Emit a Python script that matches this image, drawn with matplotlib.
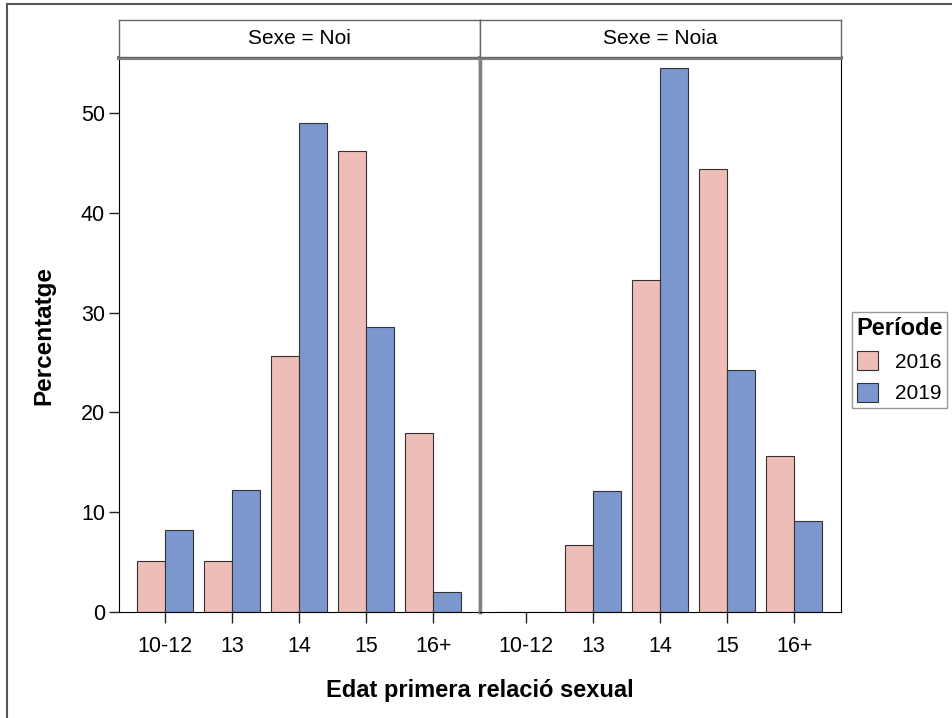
import numpy as np
import matplotlib.pyplot as plt
from matplotlib.patches import Patch
from matplotlib.lines import Line2D

plt.rcParams['font.family'] = ['Liberation Sans', 'DejaVu Sans']

CATS = ["10-12", "13", "14", "15", "16+"]
PANELS = ["Sexe = Noi", "Sexe = Noia"]
NOI_2016 = [5.1, 5.1, 25.6, 46.2, 17.9]
NOI_2019 = [8.2, 12.2, 49.0, 28.6, 2.0]
NOIA_2016 = [0.0, 6.7, 33.3, 44.4, 15.6]
NOIA_2019 = [0.0, 12.1, 54.5, 24.2, 9.1]
YEARS = ["2016", "2019"]
COLORS = ["#EFBDB7", "#7B97CD"]

DATA = [(NOI_2016, NOI_2019), (NOIA_2016, NOIA_2019)]

W, H = 953, 718
fig = plt.figure(figsize=(W / 100, H / 100), dpi=100)

def fx(px):
    return px / W

def fy(py):
    return 1 - py / H

GRAY = "#808080"
x = np.arange(len(CATS))
bw = 0.42
panel_x = [(119, 480), (480, 841)]
top, bot = 58, 612

for i, ((x0, x1), title, vals) in enumerate(zip(panel_x, PANELS, DATA)):
    ax = fig.add_axes([fx(x0), fy(bot), fx(x1 - x0), (bot - top) / H])
    for j, (v, c) in enumerate(zip(vals, COLORS)):
        ax.bar(x + (j - 0.5) * bw, v, width=bw, color=c,
               edgecolor="#333333", linewidth=0.8)
    ax.set_xlim(-0.69, 4.70)
    ax.set_ylim(0, 55.5)
    ax.set_xticks(x)
    ax.set_xticklabels(CATS, fontsize=15.5)
    ax.tick_params(axis="x", length=8, width=1, color="#222222", pad=9)
    if i == 0:
        ax.set_yticks([0, 10, 20, 30, 40, 50])
        ax.tick_params(axis="y", length=7, width=1, color="#222222",
                       labelsize=15.5, pad=3)
        ax.spines["left"].set_color("black")
        ax.spines["right"].set_color(GRAY)
        ax.spines["right"].set_linewidth(2.5)
    else:
        ax.set_yticks([])
        ax.spines["left"].set_color(GRAY)
        ax.spines["left"].set_linewidth(2.5)
        ax.spines["right"].set_color("black")
    ax.spines["top"].set_color(GRAY)
    ax.spines["top"].set_linewidth(3)
    ax.spines["bottom"].set_color("black")

    # strip header
    sx = fig.add_axes([fx(x0), fy(57), fx(x1 - x0), 37 / H])
    sx.set_xticks([]); sx.set_yticks([])
    for s in sx.spines.values():
        s.set_color("#666666")
        s.set_linewidth(1)
    sx.text(0.5, 0.5, title, ha="center", va="center", fontsize=15,
            transform=sx.transAxes)

fig.text(fx(44), fy(335), "Percentatge", rotation=90, ha="center",
         va="center", fontsize=17.5, fontweight="bold")
fig.text(fx(480), fy(690), "Edat primera relació sexual", ha="center",
         va="center", fontsize=17, fontweight="bold")

handles = [Patch(facecolor=c, edgecolor="#333333", linewidth=0.8, label=y)
           for y, c in zip(YEARS, COLORS)]
leg = fig.legend(handles=handles, title="Període", loc="center left",
                 bbox_to_anchor=(fx(852), fy(360)), fontsize=15,
                 title_fontproperties={"weight": "bold", "size": 17},
                 frameon=True, fancybox=False, edgecolor=GRAY,
                 handlelength=1.0, handleheight=1.0, borderpad=0.2,
                 labelspacing=0.55, handletextpad=0.8, borderaxespad=0)
leg.get_frame().set_linewidth(1)

# outer frame (top and left)
fig.add_artist(Line2D([fx(7), fx(952)], [fy(4), fy(4)], color="#555555",
                      lw=1.5, transform=fig.transFigure))
fig.add_artist(Line2D([fx(7), fx(7)], [fy(4), 0], color="#555555",
                      lw=1.5, transform=fig.transFigure))

fig.savefig("out.png", dpi=100)
